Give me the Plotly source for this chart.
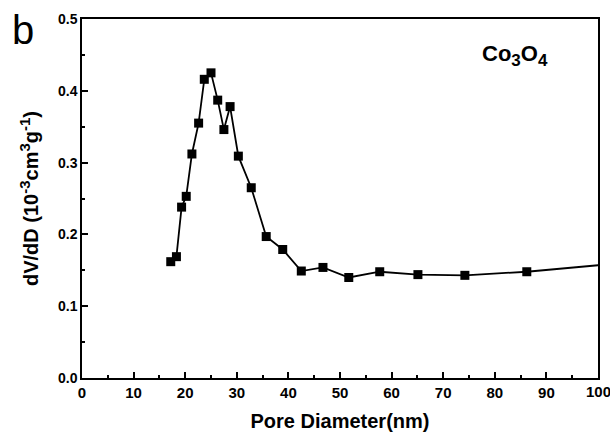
import plotly.graph_objects as go

pore_diameter = [17.2, 18.3, 19.3, 20.2, 21.3, 22.6, 23.7, 25.0, 26.3, 27.5, 28.7, 30.3,
                 32.8, 35.7, 38.9, 42.5, 46.7, 51.7, 57.7, 65.1, 74.2, 86.2, 103.0]
dvdd = [0.162, 0.169, 0.238, 0.253, 0.312, 0.355, 0.416, 0.425, 0.387, 0.346, 0.378, 0.309,
        0.265, 0.197, 0.179, 0.149, 0.154, 0.140, 0.148, 0.144, 0.143, 0.148, 0.159]

x_ticks = list(range(0, 101, 10))
y_ticks = [0, 0.1, 0.2, 0.3, 0.4, 0.5]
y_tick_labels = ["0.0", "0.1", "0.2", "0.3", "0.4", "0.5"]

font = "Liberation Sans, Arial, sans-serif"
L, R, T, B = 82, 12, 19, 59
W, H = 610, 437

fig = go.Figure()
fig.add_trace(go.Scatter(
    x=pore_diameter, y=dvdd, mode="lines+markers",
    line=dict(color="black", width=1.8),
    marker=dict(symbol="square", size=9, color="black"),
    showlegend=False,
))

sup = lambda s: f"<sup><span style='font-size:15px'>{s}</span></sup>"
sub = lambda s: f"<sub><span style='font-size:17px'>{s}</span></sub>"

# last x tick label (at the right edge) is drawn as an annotation so it is not dropped
x_ticktext = [f"<b>{v}</b>" for v in x_ticks[:-1]] + [""]

fig.update_layout(
    width=W, height=H,
    margin=dict(l=L, r=R, t=T, b=B, autoexpand=False),
    paper_bgcolor="white", plot_bgcolor="white",
    font=dict(family=font, color="black", size=14),
    xaxis=dict(
        range=[0, 100], tickmode="array", tickvals=x_ticks, ticktext=x_ticktext,
        ticks="inside", ticklen=6, tickwidth=1.5, tickcolor="black",
        minor=dict(tickvals=[v + 5 for v in x_ticks[:-1]], ticks="inside", ticklen=3,
                   tickwidth=1.5, tickcolor="black"),
        showline=True, linecolor="black", linewidth=1.5, mirror=True,
        showgrid=False, zeroline=False, automargin=False,
        tickfont=dict(size=15, family=font),
        title=dict(text="<b>Pore Diameter(nm)</b>", font=dict(size=20, family=font), standoff=14),
    ),
    yaxis=dict(
        range=[0, 0.5], tickmode="array", tickvals=y_ticks,
        ticktext=[f"<b>{t}</b>" for t in y_tick_labels],
        ticks="inside", ticklen=6, tickwidth=1.5, tickcolor="black",
        minor=dict(tickvals=[v + 0.05 for v in y_ticks[:-1]], ticks="inside", ticklen=3,
                   tickwidth=1.5, tickcolor="black"),
        showline=True, linecolor="black", linewidth=1.5, mirror=True,
        showgrid=False, zeroline=False, automargin=False,
        tickfont=dict(size=14, family=font),
        title=dict(text=f"<b>dV/dD (10{sup('-3')}cm{sup('3')}g{sup('-1')})</b>",
                   font=dict(size=20, family=font), standoff=14),
    ),
    annotations=[
        dict(text="b", x=-0.14, y=1.035, xref="paper", yref="paper", showarrow=False,
             xanchor="left", yanchor="top", font=dict(size=40, family=font, color="black")),
        dict(text=f"<b>Co{sub('3')}O{sub('4')}</b>",
             x=(515 - L) / (W - L - R), y=(H - B - 55) / (H - B - T),
             xref="paper", yref="paper",
             showarrow=False, xanchor="center", yanchor="middle",
             font=dict(size=22, family=font, color="black")),
        dict(text=f"<b>{x_ticks[-1]}</b>", x=x_ticks[-1], y=0, xref="x", yref="paper",
             showarrow=False, xanchor="center", yanchor="top", yshift=-3,
             font=dict(size=15, family=font, color="black")),
    ],
)

fig.write_html("out.html")
